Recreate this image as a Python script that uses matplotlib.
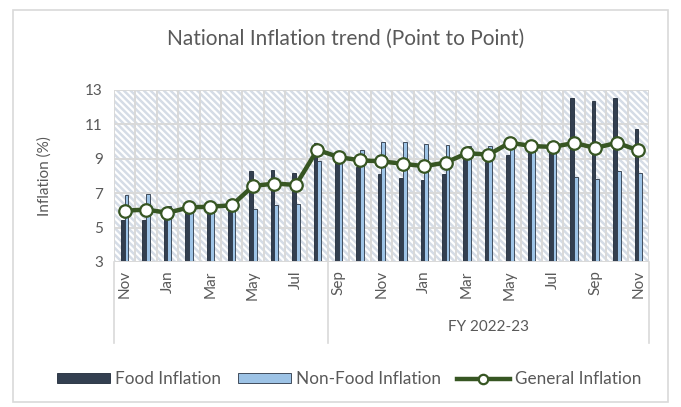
import numpy as np
import matplotlib
matplotlib.use("Agg")
import matplotlib.pyplot as plt
from matplotlib.patches import Rectangle, FancyBboxPatch

plt.rcParams['font.family'] = ['Lato', 'DejaVu Sans']
plt.rcParams['hatch.color'] = '#d5dce6'
plt.rcParams['hatch.linewidth'] = 1.8

# %% data (Nov 2021 .. Nov 2023)
months = ['Nov', 'Dec', 'Jan', 'Feb', 'Mar', 'Apr', 'May', 'Jun', 'Jul', 'Aug', 'Sep', 'Oct',
          'Nov', 'Dec', 'Jan', 'Feb', 'Mar', 'Apr', 'May', 'Jun', 'Jul', 'Aug', 'Sep', 'Oct', 'Nov']
food = [5.43, 5.46, 5.60, 6.22, 6.34, 6.23, 8.30, 8.37, 8.19, 9.94, 9.08, 8.50,
        8.14, 7.91, 7.76, 8.13, 9.09, 8.84, 9.24, 9.73, 9.76, 12.54, 12.37, 12.56, 10.76]
non_food = [6.87, 6.94, 6.26, 6.10, 6.04, 6.39, 6.08, 6.33, 6.39, 8.85, 9.13, 9.50,
            9.98, 9.96, 9.84, 9.82, 9.72, 9.72, 9.96, 9.60, 9.47, 7.95, 7.82, 8.30, 8.16]
general = [5.98, 6.05, 5.86, 6.17, 6.22, 6.29, 7.42, 7.56, 7.48, 9.52, 9.10, 8.91,
           8.85, 8.71, 8.57, 8.78, 9.33, 9.24, 9.94, 9.74, 9.69, 9.92, 9.63, 9.93, 9.49]
groups = ['', 'FY 2022-23']
group_sizes = [10, 15]

# %% figure
fig = plt.figure(figsize=(6.81, 4.07), dpi=100)
fig.patches.append(FancyBboxPatch((0.019, 0.012), 0.962, 0.963, boxstyle='square,pad=0',
                                  transform=fig.transFigure, fill=False,
                                  edgecolor='#d9d9d9', linewidth=1.2))
ax = fig.add_axes([0.1674, 0.3563, 0.7856, 0.4226])

n = len(months)
x = np.arange(n)
w = 0.17

# hatched background
ax.add_patch(Rectangle((0, 0), 1, 1, transform=ax.transAxes, facecolor='white',
                       hatch='\\' * 5, edgecolor='#d5dce6', linewidth=0, zorder=0))

b1 = ax.bar(x - w / 2, food, w, color='#333f50', edgecolor='#1f2a38',
            linewidth=0.6, zorder=3, label='Food Inflation')
b2 = ax.bar(x + w / 2, non_food, w, color='#9dc3e6', edgecolor='#2b3645',
            linewidth=0.6, zorder=3, label='Non-Food Inflation')
l1, = ax.plot(x, general, color='#375623', linewidth=3.2, marker='o', markersize=9,
              markerfacecolor='white', markeredgecolor='#375623', markeredgewidth=1.6,
              zorder=4, label='General Inflation')

ax.set_xlim(-0.5, n - 0.5)
ax.set_ylim(3, 13)
ax.set_yticks(np.arange(3, 14, 2))
ax.tick_params(axis='y', length=0, labelsize=11, labelcolor='#595959', pad=8)
ax.set_ylabel('Inflation (%)', fontsize=11, color='#595959', labelpad=24)

# grid
for yv in np.arange(3, 14, 2):
    ax.axhline(yv, color='#d9d9d9', linewidth=1.4, zorder=1)
for xv in np.arange(-0.5, n, 1):
    ax.axvline(xv, color='#d9d9d9', linewidth=1.4, zorder=1)
for s in ax.spines.values():
    s.set_visible(False)
ax.axhline(3, color='#d9d9d9', linewidth=1.4, zorder=5)

# category axis
ax.set_xticks(x[::2])
ax.set_xticklabels(months[::2], rotation=90, fontsize=11, color='#595959')
ax.tick_params(axis='x', length=0, pad=6)

trans = ax.get_xaxis_transform()
edges = np.concatenate([[0], np.cumsum(group_sizes)]) - 0.5
for e in edges:
    ax.plot([e, e], [0, -0.47], transform=trans, color='#d9d9d9', linewidth=1.2,
            clip_on=False)
for i, g in enumerate(groups):
    mid = (edges[i] + edges[i + 1]) / 2
    ax.text(mid, -0.38, g, transform=trans, ha='center', va='center',
            fontsize=11, color='#595959')

fig.text(0.507, 0.905, 'National Inflation trend (Point to Point)', ha='center',
         va='center', fontsize=15, color='#595959')

fig.legend([b1, b2, l1], ['Food Inflation', 'Non-Food Inflation', 'General Inflation'],
           loc='center', bbox_to_anchor=(0.513, 0.068), ncol=3,
           frameon=False, fontsize=12.3, labelcolor='#595959', handlelength=3.1,
           handletextpad=0.3, columnspacing=0.95, handleheight=0.55, markerscale=0.75)

fig.savefig('out.png', dpi=100)
